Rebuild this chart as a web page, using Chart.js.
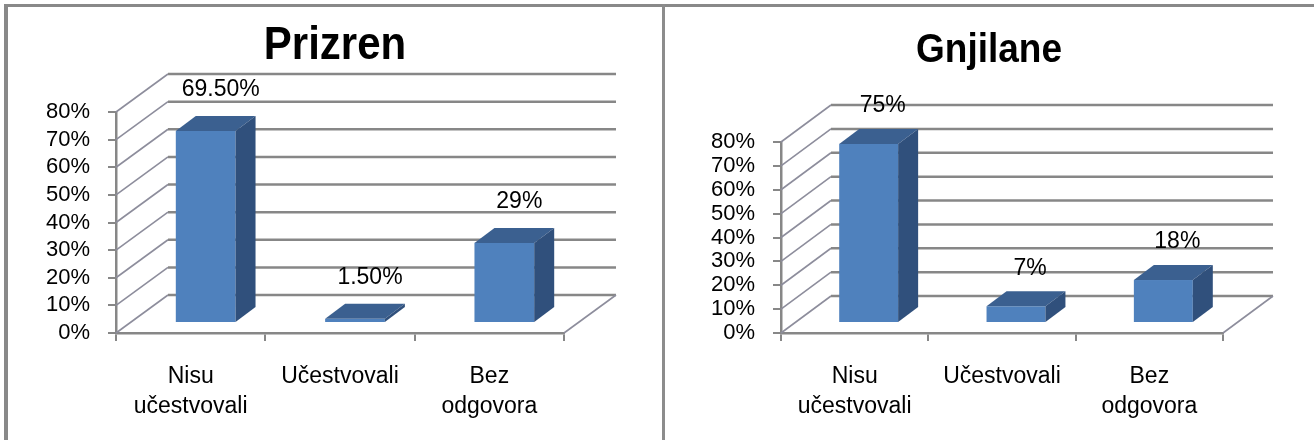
<!DOCTYPE html>
<html lang="sr">
<head>
<meta charset="UTF-8">
<title>Prizren / Gnjilane</title>
<script src="https://cdn.jsdelivr.net/npm/chart.js"></script>
<style>
  body { margin: 0; background: #fff; width: 1314px; height: 440px; overflow: hidden; position: relative; }
  .frame { position: absolute; left: 4px; top: 4px; width: 1309px; height: 440px;
           border-top: 3px solid #898989; border-left: 4px solid #898989; border-right: 1px solid #d0d0d0; }
  .divider { position: absolute; left: 662px; top: 4px; width: 3px; height: 440px; background: #8c8c8c; }
  canvas { position: absolute; top: 0; }
  #c1 { left: 0; }
  #c2 { left: 660px; }
</style>
</head>
<body>
<div class="frame"></div>
<div class="divider"></div>
<canvas id="c1" width="660" height="440"></canvas>
<canvas id="c2" width="654" height="440"></canvas>
<script>
    // Data
    const categories = [['Nisu', 'učestvovali'], 'Učestvovali', ['Bez', 'odgovora']];
    const prizrenValues = [69.5, 1.5, 29];
    const prizrenLabels = ['69.50%', '1.50%', '29%'];
    const gnjilaneValues = [75, 7, 18];
    const gnjilaneLabels = ['75%', '7%', '18%'];
    const yMax = 80;
    const yStep = 10;

    const FONT = "'Liberation Sans', Arial, sans-serif";
    const GRID = '#878787';
    const FRONT = '#4f81bd';
    const TOP = '#3b6090';
    const SIDE = '#30507c';

    // plugin: title, back wall, side wall, floor and 3D bars
    const box3d = {
        id: 'box3d',
        beforeDatasetsDraw(chart, args, opts) {
            const ctx = chart.ctx;
            const y = chart.scales.y;
            const a = chart.chartArea;
            ctx.save();
            y.ticks.forEach(t => {
                const py = y.getPixelForValue(t.value);
                // diagonal on side wall
                ctx.strokeStyle = '#8d8d9c';
                ctx.lineWidth = 1.6;
                ctx.beginPath();
                ctx.moveTo(a.left, py);
                ctx.lineTo(a.left + opts.dx, py + opts.dy);
                ctx.stroke();
                // back wall line
                ctx.strokeStyle = GRID;
                ctx.lineWidth = 2.5;
                ctx.beginPath();
                ctx.moveTo(a.left + opts.dx, py + opts.dy);
                ctx.lineTo(a.right + opts.dx, py + opts.dy);
                ctx.stroke();
            });
            // right floor edge
            ctx.strokeStyle = '#8d8d9c';
            ctx.lineWidth = 1.6;
            ctx.beginPath();
            ctx.moveTo(a.right, a.bottom);
            ctx.lineTo(a.right + opts.dx, a.bottom + opts.dy);
            ctx.stroke();

            // chart title (slightly stretched vertically, like the original)
            ctx.fillStyle = '#000';
            ctx.font = 'bold ' + opts.titleSize + 'px ' + FONT;
            ctx.textAlign = 'center';
            ctx.textBaseline = 'middle';
            ctx.translate(opts.titleX, opts.titleY);
            ctx.scale(1, 1.1);
            ctx.fillText(opts.title, 0, 0);
            ctx.restore();
        },
        afterDatasetsDraw(chart, args, opts) {
            const ctx = chart.ctx;
            const meta = chart.getDatasetMeta(0);
            ctx.save();
            meta.data.forEach((el, i) => {
                const cx = el.x + opts.sx;
                const x0 = cx - el.width / 2;
                const x1 = cx + el.width / 2;
                const top = el.y + opts.sy;
                const bottom = el.base + opts.sy;
                const bx = opts.bdx, by = opts.bdy;

                ctx.fillStyle = FRONT;
                ctx.fillRect(x0, top, x1 - x0, bottom - top);

                ctx.fillStyle = TOP;
                ctx.beginPath();
                ctx.moveTo(x0, top);
                ctx.lineTo(x0 + bx, top + by);
                ctx.lineTo(x1 + bx, top + by);
                ctx.lineTo(x1, top);
                ctx.closePath();
                ctx.fill();

                ctx.fillStyle = SIDE;
                ctx.beginPath();
                ctx.moveTo(x1, top);
                ctx.lineTo(x1 + bx, top + by);
                ctx.lineTo(x1 + bx, bottom + by);
                ctx.lineTo(x1, bottom);
                ctx.closePath();
                ctx.fill();

                // value label
                ctx.fillStyle = '#000';
                ctx.font = '23px ' + FONT;
                ctx.textAlign = 'center';
                ctx.textBaseline = 'middle';
                ctx.fillText(opts.labels[i], cx + opts.lx, top + opts.ly);
            });
            ctx.restore();
        }
    };

    function makeChart(id, title, values, labels, g) {
        return new Chart(document.getElementById(id), {
            type: 'bar',
            data: {
                labels: categories,
                datasets: [{
                    data: values,
                    backgroundColor: 'rgba(0,0,0,0)',
                    borderWidth: 0,
                    barPercentage: 0.4,
                    categoryPercentage: 1
                }]
            },
            options: {
                responsive: false,
                animation: false,
                events: [],
                layout: { padding: { left: 0, right: g.padRight, top: g.top, bottom: 0 } },
                plugins: {
                    legend: { display: false },
                    tooltip: { enabled: false },
                    title: { display: false },
                    box3d: {
                        title: title, titleSize: g.titleSize, titleX: g.titleX, titleY: g.titleY,
                        dx: g.dx, dy: g.dy, sx: g.sx, sy: -10, bdx: 20, bdy: -15,
                        lx: g.lx, ly: g.ly, labels: labels
                    }
                },
                scales: {
                    x: {
                        offset: true,
                        grid: { offset: true, drawOnChartArea: false, drawTicks: true, tickLength: 8, color: GRID, lineWidth: 2 },
                        border: { display: true, color: GRID, width: 2.5 },
                        ticks: {
                            color: '#000',
                            padding: 21,
                            maxRotation: 0,
                            autoSkip: false,
                            font: { family: FONT, size: 23, lineHeight: '30px' }
                        },
                        afterFit(s) { s.height = 107; }
                    },
                    y: {
                        min: 0,
                        max: yMax,
                        grid: { drawOnChartArea: false, drawTicks: true, tickLength: 8, color: GRID, lineWidth: 2 },
                        border: { display: true, color: GRID, width: 2.5 },
                        ticks: {
                            stepSize: yStep,
                            autoSkip: false,
                            color: '#000',
                            padding: 18,
                            font: { family: FONT, size: 22, lineHeight: 1 },
                            callback: v => v + '%'
                        },
                        afterFit(s) { s.width = g.yWidth; }
                    }
                }
            },
            plugins: [box3d]
        });
    }

    makeChart('c1', 'Prizren', prizrenValues, prizrenLabels, {
        padRight: 96, yWidth: 116, top: 112,
        titleSize: 42, titleX: 335, titleY: 46,
        dx: 52, dy: -38, sx: 15, lx: 15, ly: -41
    });

    makeChart('c2', 'Gnjilane', gnjilaneValues, gnjilaneLabels, {
        padRight: 91, yWidth: 121, top: 142,
        titleSize: 37, titleX: 329, titleY: 51,
        dx: 50, dy: -37, sx: 14, lx: 14, ly: -38
    });
</script>
</body>
</html>
